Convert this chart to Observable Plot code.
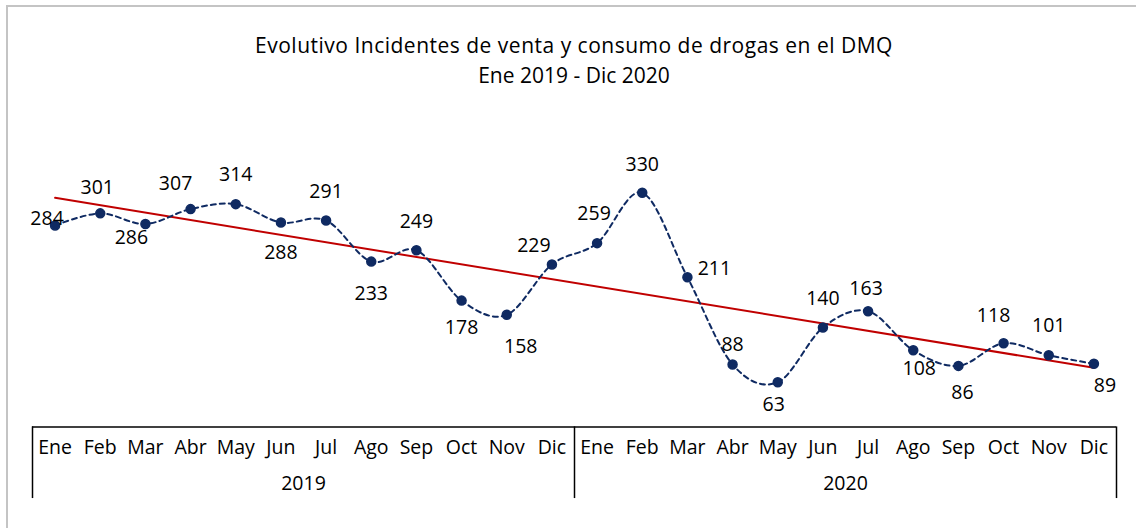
<!DOCTYPE html>
<html>
<head>
<meta charset="utf-8">
<script src="https://cdn.jsdelivr.net/npm/d3@7"></script>
<script src="https://cdn.jsdelivr.net/npm/@observablehq/plot@0.6"></script>
<style>
  html, body { margin: 0; padding: 0; background: #fff; }
  #wrap { position: relative; width: 1136px; height: 528px; overflow: hidden; }
  #border { position: absolute; left: 6px; top: 5px; width: 1200px; height: 600px;
            border-left: 2px solid #c4c4c4; border-top: 2px solid #c4c4c4; }
  #title { position: absolute; left: 0; width: 1148px; top: 30px; text-align: center;
           font-family: "Open Sans", sans-serif; font-size: 21px; line-height: 30px; color: #000; }
  #title .l1 { letter-spacing: 0.5px; }
  #chart { position: absolute; left: 0; top: 0; }
</style>
</head>
<body>
<div id="wrap">
  <div id="border"></div>
  <div id="chart"></div>
  <div id="title"><span class="l1">Evolutivo Incidentes de venta y consumo de drogas en el DMQ</span><br>Ene 2019 - Dic 2020</div>
</div>
<script>
const months = ["Ene","Feb","Mar","Abr","May","Jun","Jul","Ago","Sep","Oct","Nov","Dic"];
const years = ["2019","2020"];
const values2019 = [284, 301, 286, 307, 314, 288, 291, 233, 249, 178, 158, 229];
const values2020 = [259, 330, 211, 88, 63, 140, 163, 108, 86, 118, 101, 89];

// label offsets (layout only), in px relative to each point
const labelOffsets = [
  [-8,-7],[-3,-26],[-14,14],[-15,-25],[0,-29],[0,30],[0,-29],[0,32],[0,-29],[0,27],[14,32],[-18,-19],
  [-3,-29],[0,-28],[27,-8],[0,-20],[-4,23],[0,-29],[-2,-23],[6,18],[4,27],[-10,-27],[0,-29],[11,22]
];

const values = values2019.concat(values2020);
const data = values.map((v, i) => ({
  i, v,
  month: months[i % 12],
  year: years[Math.floor(i / 12)]
}));
const yearCenters = years.map((y, k) => ({year: y, i: k * 12 + 5.5}));

const navy = "#0f2a62";
const font = "Open Sans, sans-serif";

const chart = Plot.plot({
  width: 1136,
  height: 528,
  marginLeft: 32,
  marginRight: 20,
  marginTop: 178.1,
  marginBottom: 101.6,
  style: {fontFamily: font, fontSize: "19px", color: "#000", background: "transparent"},
  x: {type: "linear", domain: [-0.5, 23.5], axis: null},
  y: {domain: [0, 350], axis: null},
  marks: [
    // category axis frame
    Plot.ruleY([0], {x1: -0.5, x2: 23.5, stroke: "#000", strokeWidth: 1.5}),
    Plot.ruleX([-0.5, 11.5, 23.5], {y1: 0, y2: -101, stroke: "#000", strokeWidth: 1.5}),
    Plot.text(data, {x: "i", text: "month", frameAnchor: "bottom", dy: 27, fontSize: 19.5, fill: "#000"}),
    Plot.text(yearCenters, {x: "i", text: "year", frameAnchor: "bottom", dy: 63, fontSize: 19.5, fill: "#000"}),
    // trend line
    Plot.linearRegressionY(data, {x: "i", y: "v", ci: 0, stroke: "#c00000", strokeWidth: 2}),
    // smoothed dashed series
    Plot.line(data, {x: "i", y: "v", curve: "cardinal", tension: 0, stroke: navy, strokeWidth: 2, strokeDasharray: "5,4"}),
    Plot.dot(data, {x: "i", y: "v", r: 4.5, fill: navy, stroke: navy}),
    // data labels
    ...data.map((d, k) => Plot.text([d], {
      x: "i", y: "v", text: dd => String(dd.v),
      dx: labelOffsets[k][0], dy: labelOffsets[k][1],
      fontSize: 19.5, fill: "#000"
    }))
  ]
});
document.getElementById("chart").appendChild(chart);
</script>
</body>
</html>
